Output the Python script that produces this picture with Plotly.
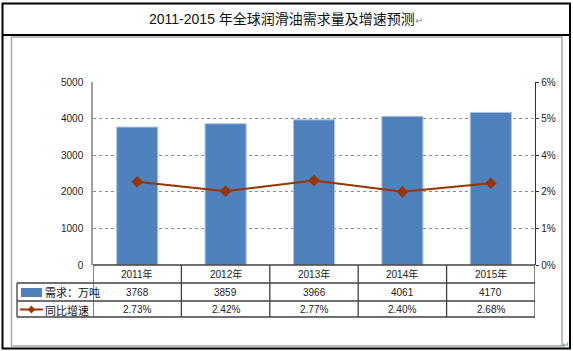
import plotly.graph_objects as go

years = ["2011年", "2012年", "2013年", "2014年", "2015年"]
demand = [3768, 3859, 3966, 4061, 4170]
growth = [0.0273, 0.0242, 0.0277, 0.0240, 0.0268]
growth_labels = ["2.73%", "2.42%", "2.77%", "2.40%", "2.68%"]
left_ticks = [0, 1000, 2000, 3000, 4000, 5000]
right_ticks = [0, 0.012, 0.024, 0.036, 0.048, 0.06]
right_tick_text = ["0%", "1%", "2%", "4%", "5%", "6%"]
title = "2011-2015 年全球润滑油需求量及增速预测"
row_names = ["需求：万吨", "同比增速"]

W, H = 573, 351
L, R, T, B = 93, 535, 82, 265


def X(px):
    return (px - L) / (R - L)


def Y(py):
    return (B - py) / (B - T)


BAR = "#4F81BD"
LINE = "#993300"
GRID = "#8585C2"
TBL = "#404040"
FONT = "Liberation Sans, Noto Sans CJK SC, sans-serif"

fig = go.Figure()
fig.add_trace(go.Bar(
    x=years, y=demand, name=row_names[0],
    marker=dict(color=BAR, line=dict(color="#A9C3E3", width=1)),
))
fig.add_trace(go.Scatter(
    x=years, y=growth, yaxis="y2", name=row_names[1], mode="lines+markers",
    line=dict(color=LINE, width=2),
    marker=dict(symbol="diamond", size=9, color=LINE),
))

shapes = []
shapes.append(dict(type="rect", xref="paper", yref="paper", x0=X(2.5), x1=X(570), y0=Y(348.5), y1=Y(3.5),
                   line=dict(color="black", width=2)))
shapes.append(dict(type="line", xref="paper", yref="paper", x0=X(2.5), x1=X(570), y0=Y(35), y1=Y(35),
                   line=dict(color="black", width=2)))
shapes.append(dict(type="rect", xref="paper", yref="paper", x0=X(11.5), x1=X(562), y0=Y(346), y1=Y(37),
                   line=dict(color="#A6A6A6", width=1.5)))
for py, x0 in [(B, L), (283, 17), (301, 17), (317, 17)]:
    shapes.append(dict(type="line", xref="paper", yref="paper", x0=X(x0), x1=X(R), y0=Y(py), y1=Y(py),
                       line=dict(color=TBL, width=1.3)))
shapes.append(dict(type="line", xref="paper", yref="paper", x0=X(17), x1=X(17), y0=Y(283), y1=Y(317),
                   line=dict(color=TBL, width=1.3)))
for i in range(len(years) + 1):
    shapes.append(dict(type="line", xref="x", yref="paper", x0=i - 0.5, x1=i - 0.5, y0=Y(265), y1=Y(317),
                       line=dict(color=TBL, width=1.3)))
shapes.append(dict(type="rect", xref="paper", yref="paper", x0=X(21), x1=X(42), y0=Y(297), y1=Y(288),
                   fillcolor=BAR, line=dict(color=BAR, width=0)))
shapes.append(dict(type="line", xref="paper", yref="paper", x0=X(20), x1=X(43), y0=Y(309.5), y1=Y(309.5),
                   line=dict(color=LINE, width=2)))
cx, cy = X(31.5), Y(309.5)
dx, dy = 3.5 / (R - L), 4 / (B - T)
shapes.append(dict(type="path", xref="paper", yref="paper",
                   path=f"M {cx-dx},{cy} L {cx},{cy+dy} L {cx+dx},{cy} L {cx},{cy-dy} Z",
                   fillcolor=LINE, line=dict(color=LINE, width=0)))


def ann(x, y, text, xref="paper", xanchor="center", size=10, family=FONT, color="#222222"):
    return dict(xref=xref, yref="paper", x=x, y=y, text=text, showarrow=False,
                xanchor=xanchor, yanchor="middle", font=dict(family=family, size=size, color=color))


annotations = [ann(X(286), Y(19), title + "<span style='color:#909090;font-size:10px'>↵</span>",
                   size=14, family="Liberation Sans, Noto Sans CJK SC", color="#111111")]
for i, yr in enumerate(years):
    annotations.append(ann(i, Y(274), yr, xref="x"))
    annotations.append(ann(i, Y(292), str(demand[i]), xref="x"))
    annotations.append(ann(i, Y(309.5), growth_labels[i], xref="x"))
annotations.append(ann(X(43), Y(292), row_names[0], xanchor="left", size=11, family="Noto Sans CJK SC",
                       color="#111111"))
annotations.append(ann(X(43), Y(309.5), row_names[1], xanchor="left", size=11, family="Noto Sans CJK SC",
                       color="#111111"))
annotations.append(ann(X(566), Y(344), "↵", size=9, family="Noto Sans CJK SC", color="#808080"))

fig.update_layout(
    width=W, height=H,
    margin=dict(l=L, r=W - R, t=T, b=H - B, pad=0),
    paper_bgcolor="white", plot_bgcolor="white",
    showlegend=False,
    bargap=0.535,
    shapes=shapes,
    annotations=annotations,
    xaxis=dict(type="category", range=[-0.5, 4.5], showticklabels=False, showgrid=False,
               showline=False, zeroline=False, ticks=""),
    yaxis=dict(range=[0, 5000], tickvals=left_ticks, showgrid=True, gridcolor=GRID, griddash="dot",
               gridwidth=1, zeroline=False, showline=True, linecolor="#A0A0A0", linewidth=1.5,
               ticks="outside", ticklen=6, tickcolor="rgba(0,0,0,0)",
               tickfont=dict(family=FONT, size=10, color="#222222")),
    yaxis2=dict(range=[0, 0.06], tickvals=right_ticks, ticktext=right_tick_text, overlaying="y",
                side="right", showgrid=False, zeroline=False, showline=True, linecolor="#303030",
                linewidth=1.3, ticks="outside", ticklen=3, tickcolor="#303030",
                tickfont=dict(family=FONT, size=10, color="#222222")),
)

fig.write_html("out.html")
